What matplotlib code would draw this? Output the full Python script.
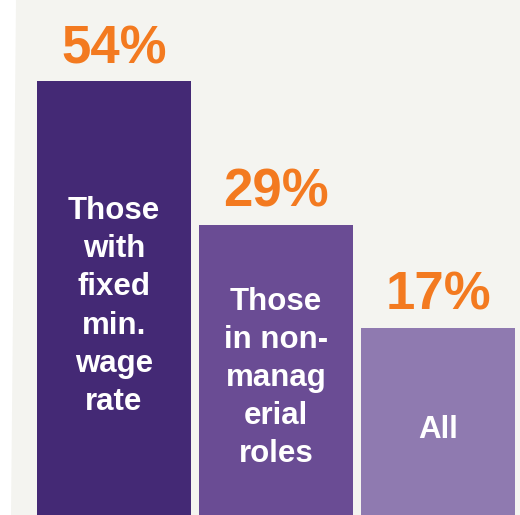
import matplotlib.pyplot as plt
import numpy as np
from matplotlib.patches import Polygon
import matplotlib.transforms as mtransforms

plt.rcParams['font.family'] = ['Liberation Sans', 'DejaVu Sans']

groups = ["Those\nwith\nfixed\nmin.\nwage\nrate",
          "Those\nin non-\nmanag\nerial\nroles",
          "All"]
shares = [54, 29, 17]
bar_colors = ["#442975", "#6a4c94", "#8f7ab0"]
orange = "#f37a20"

# bars in the source are not drawn to a linear scale, a power scale fits them
p = 0.3
def fwd(v):
    return np.power(np.clip(v, 0, None), p)
def inv(v):
    return np.power(np.clip(v, 0, None), 1.0 / p)

fig = plt.figure(figsize=(5.2, 5.15), dpi=100)
fig.patch.set_facecolor("white")
# light panel behind the chart, left edge slightly slanted
fig.patches.append(Polygon([(16/520, 1), (1, 1), (1, 0), (11/520, 0)], closed=True,
                           transform=fig.transFigure, facecolor="#f4f4f0",
                           edgecolor="none", zorder=-5))

ax = fig.add_axes([0, 0, 1, 1])
ax.set_zorder(1)
ax.set_facecolor("none")
ax.set_yscale("function", functions=(fwd, inv))
ax.set_ylim(4.82, 73.5)
ax.set_xlim(-114/162, 406/162)

x = np.arange(len(shares))
bars = ax.bar(x, shares, width=154/162, color=bar_colors, bottom=0)

lo, hi = fwd(4.82), fwd(73.5)
trans = mtransforms.blended_transform_factory(ax.transData, ax.transAxes)
for i in range(len(shares)):
    ax.annotate("%d%%" % shares[i], (x[i], shares[i]), xytext=(0, 5),
                textcoords="offset points", ha="center", va="bottom",
                fontsize=38, fontweight="bold", color=orange)
    top = (fwd(shares[i]) - lo) / (hi - lo)
    ax.text(x[i], top / 2 - 0.016, groups[i], transform=trans, ha="center",
            va="center", multialignment="center", fontsize=22.5,
            fontweight="bold", color="white", linespacing=1.35)

ax.axis("off")
fig.savefig("out.png", dpi=100)
